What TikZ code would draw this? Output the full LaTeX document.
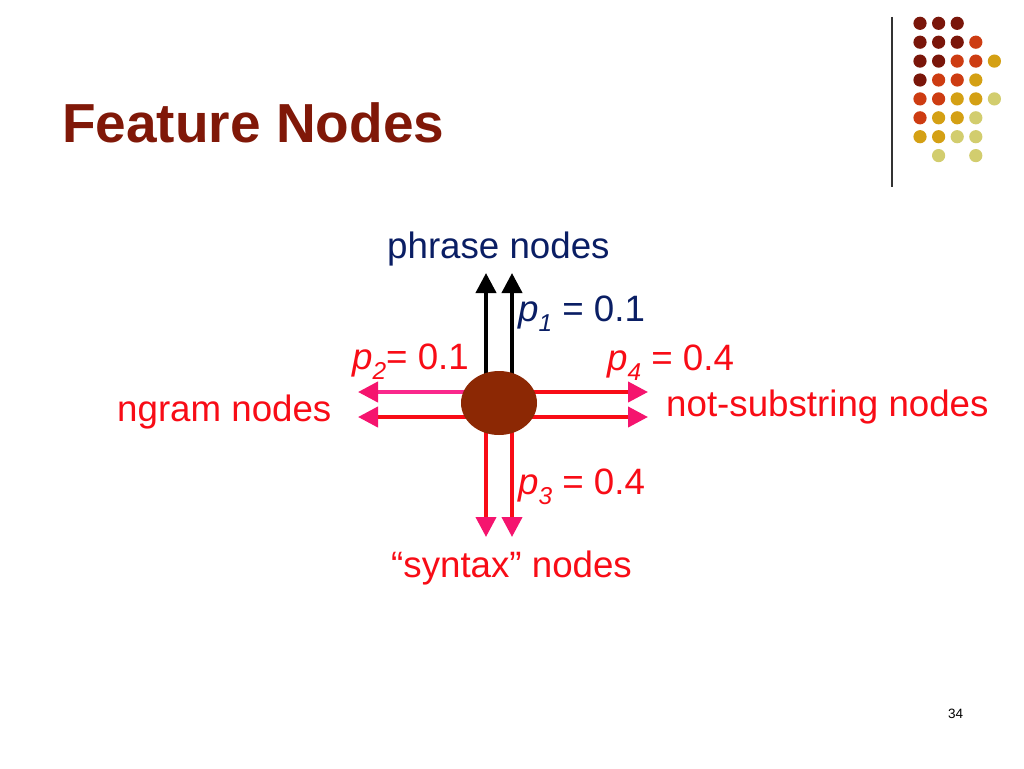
\documentclass[tikz,border=0pt]{standalone}
\usepackage{fontspec}
\setmainfont{Liberation Sans}
\usepackage{tikz}
\usetikzlibrary{positioning}
\usetikzlibrary{arrows.meta,shapes.geometric}

\definecolor{titlered}{RGB}{128,24,8}
\definecolor{navy}{RGB}{10,30,100}
\definecolor{labelred}{RGB}{248,12,22}
\definecolor{headpink}{RGB}{245,20,110}
\definecolor{linepink}{RGB}{250,40,140}
\definecolor{hubbrown}{RGB}{140,40,4}
\definecolor{dotA}{RGB}{122,22,10}
\definecolor{dotB}{RGB}{205,60,18}
\definecolor{dotC}{RGB}{212,160,20}
\definecolor{dotD}{RGB}{210,205,110}

\pgfdeclarelayer{background}
\pgfsetlayers{background,main}

\newcommand{\psub}[1]{\textit{p}\raisebox{-10pt}{\fontsize{24.4}{24}\selectfont\itshape #1}}

\begin{document}
\begin{tikzpicture}[x=1pt,y=-1pt,
  lbl/.style={anchor=base west,inner sep=0pt,font=\fontsize{36.7}{40}\selectfont},
  blob/.style={ellipse,fill=hubbrown,minimum width=76pt,minimum height=64pt,inner sep=0pt},
  outarrow/.style={line width=4pt,-{Triangle[width=20pt,length=20pt,color=#1]}}]
\useasboundingbox (0,0) rectangle (1024,768);

% title and slide decoration
\node[anchor=base west,inner sep=0pt,font=\bfseries\fontsize{55}{60}\selectfont,text=titlered] (title) at (62,142) {Feature Nodes};
\draw[line width=1.5pt,black!80] (892,17) -- (892,187);
\foreach \c/\r/\k in {1/1/dotA,2/1/dotA,3/1/dotA,
                      1/2/dotA,2/2/dotA,3/2/dotA,4/2/dotB,
                      1/3/dotA,2/3/dotA,3/3/dotB,4/3/dotB,5/3/dotC,
                      1/4/dotA,2/4/dotB,3/4/dotB,4/4/dotC,
                      1/5/dotB,2/5/dotB,3/5/dotC,4/5/dotC,5/5/dotD,
                      1/6/dotB,2/6/dotC,3/6/dotC,4/6/dotD,
                      1/7/dotC,2/7/dotC,3/7/dotD,4/7/dotD,
                      2/8/dotD,4/8/dotD}
  \fill[\k] ({920+18.6*(\c-1)},{23.3+18.9*(\r-1)}) circle[radius=6.6];
\node[anchor=base west,inner sep=0pt,font=\fontsize{13.5}{15}\selectfont] (page) at (948,718) {34};

% feature node and its outgoing edges
\node[blob] (hub) at (499,403) {};
\coordinate (up1) at (486,273);
\coordinate (up2) at (512,273);
\coordinate (dn1) at (486,537);
\coordinate (dn2) at (512,537);
\coordinate (lf1) at (358,392);
\coordinate (lf2) at (358,417);
\coordinate (rt1) at (648,392);
\coordinate (rt2) at (648,417);
\begin{pgfonlayer}{background}
\fill[white] (0,0) rectangle (1024,768);
\draw[outarrow=black,black] ([xshift=-13pt]hub.center) -- (up1);
\draw[outarrow=black,black] ([xshift=13pt]hub.center) -- (up2);
\draw[outarrow=headpink,labelred] ([xshift=-13pt]hub.center) -- (dn1);
\draw[outarrow=headpink,labelred] ([xshift=13pt]hub.center) -- (dn2);
\draw[outarrow=headpink,linepink] ([yshift=11pt]hub.center) -- (lf1);
\draw[outarrow=headpink,labelred] ([yshift=-14pt]hub.center) -- (lf2);
\draw[outarrow=headpink,labelred] ([yshift=11pt]hub.center) -- (rt1);
\draw[outarrow=headpink,labelred] ([yshift=-14pt]hub.center) -- (rt2);
\end{pgfonlayer}

% labels
\node[lbl,text=navy] (phrase) at (387,258) {phrase nodes};
\node[lbl,text=navy] (p1) at (518,321) {\psub{1} = 0.1};
\node[lbl,text=labelred] (p2) at (352,369) {\psub{2}= 0.1};
\node[lbl,text=labelred] (p4) at (607,370) {\psub{4} = 0.4};
\node[lbl,text=labelred] (ngram) at (117,421) {ngram nodes};
\node[lbl,text=labelred] (notsub) at (666,416) {not-substring nodes};
\node[lbl,text=labelred] (p3) at (518,494) {\psub{3} = 0.4};
\node[lbl,text=labelred] (syntax) at (391,577) {“syntax” nodes};
\end{tikzpicture}
\end{document}
